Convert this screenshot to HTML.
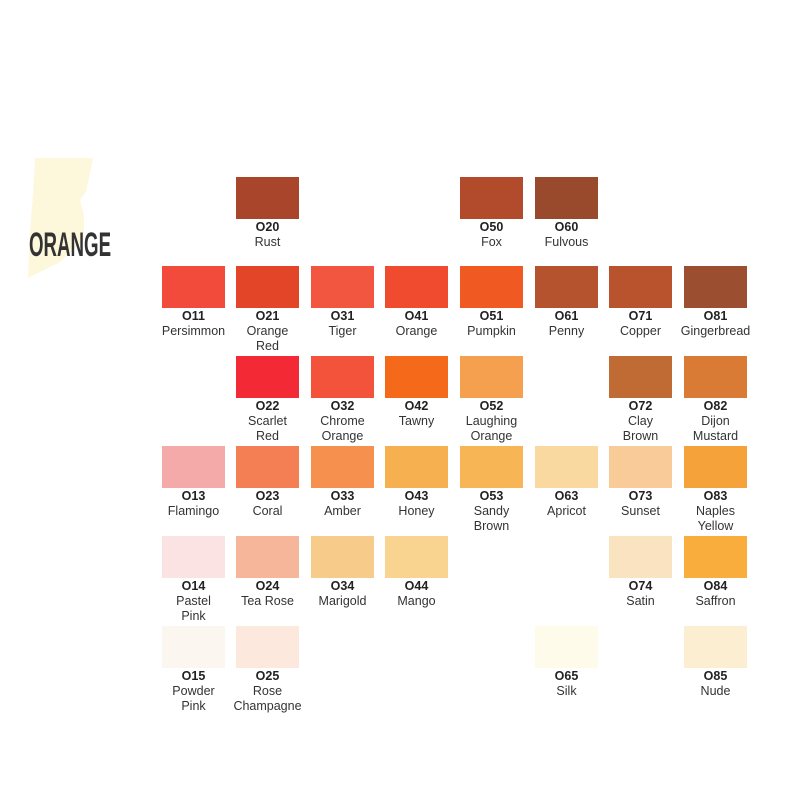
<!DOCTYPE html>
<html><head><meta charset="utf-8"><style>
body{margin:0;width:800px;height:800px;background:#fff;position:relative;overflow:hidden;font-family:"Liberation Sans",sans-serif}
.s{position:absolute;width:63px;height:42px}
.l{position:absolute;width:90px;text-align:center;font-size:12.5px;line-height:15px;color:#333}
.l b{display:block;color:#222}
#t{position:absolute;left:29px;top:226px;font-size:34px;font-weight:bold;color:#333;transform:scaleX(0.55);transform-origin:left top;letter-spacing:0px}
</style></head><body>
<svg style="position:absolute;left:0;top:0" width="130" height="300"><polygon points="35,158 93,158 86,192 80,200 84,215 84,240 60,262 28,278 30,230 33,195" fill="#fdf8dc"/></svg>
<div id="t">ORANGE</div>
<div id="c"></div>
<script>
var X=[162,236,311,385,460,535,609,684],Y=[177,266,356,446,536,626];
var d=[
[0,1,"O20","Rust","#a8452b"],[0,4,"O50","Fox","#b24a2c"],[0,5,"O60","Fulvous","#9a4a2c"],
[1,0,"O11","Persimmon","#f34b3b"],[1,1,"O21","Orange<br>Red","#e24527"],[1,2,"O31","Tiger","#f25540"],[1,3,"O41","Orange","#f04a2f"],[1,4,"O51","Pumpkin","#f05a22"],[1,5,"O61","Penny","#b4532e"],[1,6,"O71","Copper","#b8532d"],[1,7,"O81","Gingerbread","#9c4f30"],
[2,1,"O22","Scarlet<br>Red","#f32a35"],[2,2,"O32","Chrome<br>Orange","#f2533a"],[2,3,"O42","Tawny","#f56a1a"],[2,4,"O52","Laughing<br>Orange","#f5a04f"],[2,6,"O72","Clay<br>Brown","#c06a34"],[2,7,"O82","Dijon<br>Mustard","#d97a35"],
[3,0,"O13","Flamingo","#f4aaa8"],[3,1,"O23","Coral","#f47f54"],[3,2,"O33","Amber","#f5904e"],[3,3,"O43","Honey","#f6b050"],[3,4,"O53","Sandy<br>Brown","#f7b555"],[3,5,"O63","Apricot","#f9d9a0"],[3,6,"O73","Sunset","#f9cb98"],[3,7,"O83","Naples<br>Yellow","#f6a23a"],
[4,0,"O14","Pastel<br>Pink","#fbe3e3"],[4,1,"O24","Tea Rose","#f6b69a"],[4,2,"O34","Marigold","#f7cc8a"],[4,3,"O44","Mango","#f9d491"],[4,6,"O74","Satin","#fae3c0"],[4,7,"O84","Saffron","#f8ad3c"],
[5,0,"O15","Powder<br>Pink","#fcf6f1"],[5,1,"O25","Rose<br>Champagne","#fce8dc"],[5,5,"O65","Silk","#fefbea"],[5,7,"O85","Nude","#fcefd1"]];
var h="";d.forEach(function(e){var x=X[e[1]],y=Y[e[0]];
h+='<div class="s" style="left:'+x+'px;top:'+y+'px;background:'+e[4]+'"></div><div class="l" style="left:'+(x-13.5)+'px;top:'+(y+43)+'px"><b>'+e[2]+'</b>'+e[3]+'</div>';});
document.getElementById("c").innerHTML=h;
</script>
</body></html>
